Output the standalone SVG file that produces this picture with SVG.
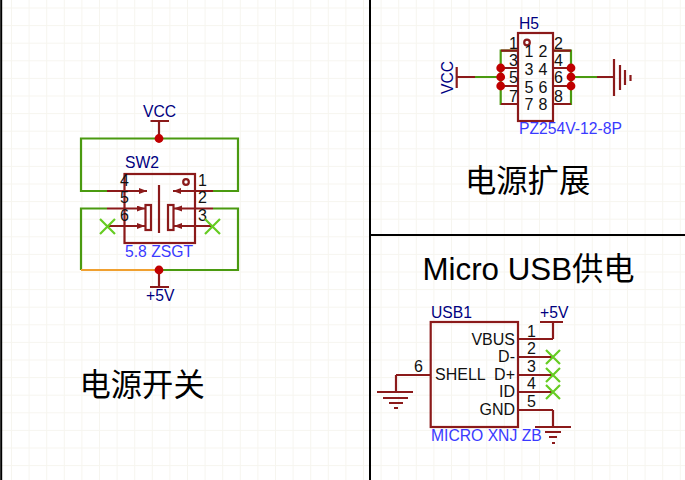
<svg xmlns="http://www.w3.org/2000/svg" width="685" height="480" viewBox="0 0 685 480">
<defs>
<pattern id="grid" x="11" y="7.5" width="17.6" height="17.6" patternUnits="userSpaceOnUse"><path d="M0.5 0V17.6M0 0.5H17.6" fill="none" stroke="#f6f5ef" stroke-width="1"/></pattern>
<marker id="arr" markerWidth="10" markerHeight="8" refX="8" refY="3" orient="auto" markerUnits="userSpaceOnUse"><path d="M0 0L8 3L0 6Z" fill="#8b1a1a"/></marker>
</defs>
<style>
text{font-family:"Liberation Sans",Arial,sans-serif;font-size:16px;fill:#111}
.cjk{font-family:"Liberation Sans","Noto Sans CJK SC",sans-serif;font-size:31.300px;fill:#000}
.ref{fill:#00007f;font-size:15.700px}
.val{fill:#3a3aff;font-size:15.700px}
.red{stroke:#8b1a1a;stroke-width:2.200;fill:none}
.pin{stroke:#8b1a1a;stroke-width:2.200;fill:none}
.wire{stroke:#4a9a10;stroke-width:2.200;fill:none}
.orange{stroke:#f0a030;stroke-width:2.200;fill:none}
.nc{stroke:#66cc22;stroke-width:2.200;fill:none}
.dot{fill:#c00000}
.frame{stroke:#000;stroke-width:2;fill:none}
</style>
<rect width="685" height="480" fill="#fff"/>
<rect width="685" height="480" fill="url(#grid)"/>
<g id="frame"><path class="frame" d="M1.200 0V480M370 0V480M370 235H685"/></g>
<g id="connectors">
<path class="wire" d="M107 191H81V138.500H238V191H213"/>
<path class="wire" d="M107 208.500H81V270"/>
<path class="wire" d="M213 208.500H238V270H159"/>
<path class="orange" d="M81 270H159"/>
<path class="wire" d="M518 50.700H500.700V104H518M553 50.700H571V104H553"/>
<path class="wire" d="M475 77H500.700M571 77H597"/>
</g>
<g id="SW2">
<rect class="red" x="124.500" y="174" width="70.500" height="69"/>
<circle class="red" cx="186" cy="182" r="2.800"/>
<path class="pin" marker-end="url(#arr)" d="M107 191H147"/>
<path class="pin" marker-end="url(#arr)" d="M107 208.500H145"/>
<path class="pin" marker-end="url(#arr)" d="M107 226H145"/>
<path class="pin" marker-end="url(#arr)" d="M213 191H173"/>
<path class="pin" marker-end="url(#arr)" d="M213 208.500H174"/>
<path class="pin" marker-end="url(#arr)" d="M213 226H174"/>
<rect class="red" x="145.500" y="205" width="5.500" height="25"/>
<rect class="red" x="168" y="205" width="5.500" height="25"/>
<path class="red" d="M159 185V233"/>
<text class="ref" x="125" y="168">SW2</text>
<text x="120" y="186">4</text><text x="120" y="203">5</text><text x="120" y="221">6</text>
<text x="198" y="186">1</text><text x="198" y="203">2</text><text x="198" y="221">3</text>
<text class="val" x="125" y="256.500">5.8 ZSGT</text>
<path class="nc" d="M100 219L115 234M115 219L100 234M205 219L220 234M220 219L205 234"/>
</g>
<g id="VCC1">
<path class="red" d="M150.500 121H169M159 121V138.500"/>
<circle class="dot" cx="159" cy="138.500" r="4.400"/>
<text class="ref" x="143" y="117">VCC</text>
</g>
<g id="P5V1">
<path class="red" d="M150 287H169M159 270V287"/>
<circle class="dot" cx="159" cy="270" r="4.400"/>
<text class="ref" x="146" y="301">+5V</text>
</g>
<g id="H5">
<rect class="red" x="518" y="33" width="35" height="88"/>
<circle class="red" cx="527" cy="42.500" r="2.800"/>
<path class="pin" d="M518 50.700H501M518 68H501M518 86H501M518 104H501M553 50.700H571M553 68H571M553 86H571M553 104H571"/>
<text class="ref" x="519" y="29">H5</text>
<text class="val" x="519" y="134">PZ254V-12-8P</text>
<g text-anchor="end"><text x="518" y="49">1</text><text x="518" y="66">3</text><text x="518" y="83">5</text><text x="518" y="102">7</text></g>
<g><text x="554" y="49">2</text><text x="554" y="66">4</text><text x="554" y="83">6</text><text x="554" y="102">8</text></g>
<g text-anchor="middle"><text x="529" y="57">1</text><text x="529" y="75">3</text><text x="529" y="93">5</text><text x="529" y="110">7</text>
<text x="543" y="57">2</text><text x="543" y="75">4</text><text x="543" y="93">6</text><text x="543" y="110">8</text></g>
<circle class="dot" cx="500.700" cy="68" r="4.400"/><circle class="dot" cx="500.700" cy="77" r="4.400"/><circle class="dot" cx="500.700" cy="86" r="4.400"/>
<circle class="dot" cx="571" cy="68" r="4.400"/><circle class="dot" cx="571" cy="77" r="4.400"/><circle class="dot" cx="571" cy="86" r="4.400"/>
</g>
<g id="VCC2">
<path class="red" d="M456.700 67V88M456.700 77H475"/>
<text class="ref" transform="translate(452.500 94) rotate(-90)">VCC</text>
</g>
<g id="GND1">
<path class="red" d="M597 77H614M614 59V96M620 65V90M625 70V85M630.500 75V81"/>
</g>
<g id="USB1">
<rect class="red" x="430.700" y="322" width="87.300" height="105"/>
<path class="pin" d="M518 339H553M518 357H553M518 375H553M518 392H553M518 410H553M431 375H396"/>
<text class="ref" x="431" y="318">USB1</text>
<text class="val" x="431" y="441">MICRO XNJ ZB</text>
<g text-anchor="end"><text x="515" y="344.500">VBUS</text><text x="515" y="362">D-</text><text x="515" y="380">D+</text><text x="515" y="397">ID</text><text x="515" y="415">GND</text></g>
<text x="435" y="380">SHELL</text>
<text x="414" y="372">6</text>
<text x="527" y="337">1</text><text x="527" y="354">2</text><text x="527" y="372">3</text><text x="527" y="389">4</text><text x="527" y="407">5</text>
<path class="nc" d="M546 350L560 364M560 350L546 364M546 368L560 382M560 368L546 382M546 385L560 399M560 385L546 399"/>
</g>
<g id="P5V2"><path class="red" d="M540 322H563M553 322V339"/><text class="ref" x="540" y="318">+5V</text></g>
<g id="GND2"><path class="red" d="M553 410V427M535 427H571M545 432H561M549 437H557M552 443H555"/></g>
<g id="GND3"><path class="red" d="M396 375V392M377 392H413M383 398H408M389 403H403M394 408H398"/></g>
<g id="titles">
<text class="cjk" x="79.500" y="395.500">电源开关</text>
<text class="cjk" x="465" y="192">电源扩展</text>
<text class="cjk" x="422.500" y="280">Micro USB供电</text>
</g>
</svg>
